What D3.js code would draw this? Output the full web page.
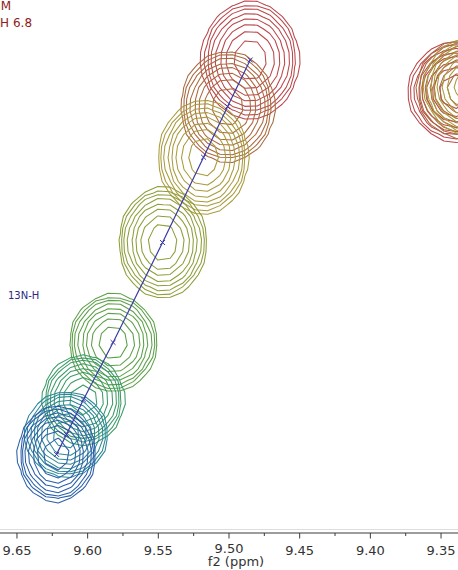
<!DOCTYPE html>
<html><head><meta charset="utf-8">
<script src="https://cdn.jsdelivr.net/npm/d3@7"></script>
<style>html,body{margin:0;padding:0;background:#fff;} svg{display:block;}</style>
</head><body>
<svg id="chart" width="458" height="570"></svg>
<script>
// Titration steps, one overlaid spectrum each (first step red, last step blue)
const stepColors = ["#b9474b", "#a9683d", "#a99a3c", "#8f9d3a", "#5c9f48", "#3d9a68", "#2b8796", "#2b5ea8"];
// Tracked indole N-H peak: 1H (f2) and 15N (f1) positions in ppm
const peakH = [9.485, 9.501, 9.518, 9.547, 9.582, 9.603, 9.615, 9.622];
const peakN = [127.45, 127.80, 128.18, 128.82, 129.57, 130.00, 130.26, 130.41];
// Gaussian widths (ppm)
const widthH = [0.0139, 0.0133, 0.0127, 0.0124, 0.0124, 0.0116, 0.0116, 0.0110];
const widthN = [0.178, 0.168, 0.172, 0.168, 0.147, 0.135, 0.129, 0.144];
// Neighbouring peak at the right edge (first three steps)
const sideH = [9.340, 9.335, 9.330];
const sideN = [127.69, 127.67, 127.65];
const sideWidthH = [0.0133, 0.0130, 0.0127];
const sideWidthN = [0.150, 0.148, 0.146];
// Contour levels relative to peak height
const levels = [0.050, 0.073, 0.105, 0.154, 0.225, 0.330, 0.477, 0.698];
const f2Ticks = [9.65, 9.60, 9.55, 9.50, 9.45, 9.40, 9.35];
const f2Minor = [9.625, 9.575, 9.525, 9.475, 9.425, 9.375];
const f2Title = "f2 (ppm)";
const headerLines = ["mM", "pH 6.8"];
const peakLabel = "13N-H";

const W = 458, H = 570, plotBottom = 533;
const svg = d3.select("#chart");

const x = d3.scaleLinear().domain([9.662, 9.338]).range([0, W]);
const y = d3.scaleLinear().domain([127.0, 131.0]).range([0, plotBottom]);

svg.append("defs").append("clipPath").attr("id", "plotClip")
  .append("rect").attr("x", 0).attr("y", 0).attr("width", W).attr("height", plotBottom - 3);

// faint frame edge above the axis
svg.append("line").attr("x1", 0).attr("x2", W).attr("y1", plotBottom - 3.5).attr("y2", plotBottom - 3.5)
  .attr("stroke", "#dedede").attr("stroke-width", 1);

const plot = svg.append("g").attr("clip-path", "url(#plotClip)");

// coarse sampling grid in ppm (gives the faceted contour outlines)
const H0 = 9.70, H1 = 9.27, stepH = 0.0088;
const N0 = 126.6, N1 = 131.3, stepN = 0.088;
const nx = Math.ceil((H0 - H1) / stepH) + 1;
const ny = Math.ceil((N1 - N0) / stepN) + 1;

function gridFor(peaks) {
  const values = new Float64Array(nx * ny);
  for (let j = 0; j < ny; j++) {
    const n = N0 + j * stepN;
    for (let i = 0; i < nx; i++) {
      const h = H0 - i * stepH;
      let v = 0;
      for (const p of peaks) {
        const dh = (h - p.h) / p.wh, dn = (n - p.n) / p.wn;
        v += Math.exp(-0.5 * (dh * dh + dn * dn));
      }
      values[j * nx + i] = v;
    }
  }
  return values;
}

const toScreen = d3.geoTransform({
  point(gx, gy) {
    this.stream.point(x(H0 - (gx - 0.5) * stepH), y(N0 + (gy - 0.5) * stepN));
  }
});
const path = d3.geoPath(toScreen);
const contourGen = d3.contours().size([nx, ny]).thresholds(levels);

stepColors.forEach((color, k) => {
  const peaks = [{ h: peakH[k], n: peakN[k], wh: widthH[k], wn: widthN[k] }];
  if (k < sideH.length) peaks.push({ h: sideH[k], n: sideN[k], wh: sideWidthH[k], wn: sideWidthN[k] });
  const rings = contourGen(gridFor(peaks));
  plot.append("g").selectAll("path").data(rings).join("path")
    .attr("d", path)
    .attr("fill", "none")
    .attr("stroke", color)
    .attr("stroke-width", 1.05)
    .attr("stroke-linejoin", "round");
});

// trajectory of the peak across the titration
const traj = peakH.map((h, i) => [x(h), y(peakN[i])]);
plot.append("path")
  .attr("d", d3.line()(traj))
  .attr("fill", "none").attr("stroke", "#3a3aa6").attr("stroke-width", 1.2);
const cross = d3.symbol().type(d3.symbolTimes || d3.symbolX).size(18);
plot.selectAll(".pk").data(traj).join("path")
  .attr("class", "pk")
  .attr("transform", d => `translate(${d[0]},${d[1]})`)
  .attr("d", cross)
  .attr("fill", "none").attr("stroke", "#3a3aa6").attr("stroke-width", 1);

// f2 axis
const axisG = svg.append("g").attr("transform", `translate(0,${plotBottom})`);
axisG.append("line").attr("x1", 0).attr("x2", W).attr("stroke", "#3a3a3a").attr("stroke-width", 1);
axisG.selectAll(".maj").data(f2Ticks).join("line").attr("class", "maj")
  .attr("x1", d => x(d)).attr("x2", d => x(d)).attr("y1", 0).attr("y2", 5.5)
  .attr("stroke", "#3a3a3a");
axisG.selectAll(".min").data(f2Minor).join("line").attr("class", "min")
  .attr("x1", d => x(d)).attr("x2", d => x(d)).attr("y1", 0).attr("y2", 3)
  .attr("stroke", "#3a3a3a");
axisG.selectAll(".lbl").data(f2Ticks).join("text").attr("class", "lbl")
  .attr("x", d => x(d)).attr("y", d => d === 9.50 ? 20 : 22)
  .attr("text-anchor", "middle")
  .attr("font-family", "DejaVu Sans, Verdana, sans-serif").attr("font-size", 13)
  .attr("fill", "#333")
  .text(d => d3.format(".2f")(d));
svg.append("text").attr("x", 236).attr("y", 566)
  .attr("text-anchor", "middle")
  .attr("font-family", "DejaVu Sans, Verdana, sans-serif").attr("font-size", 13)
  .attr("fill", "#333").text(f2Title);

// sample conditions (partly beyond the left edge)
svg.append("text").attr("x", -11).attr("y", 9.5)
  .attr("font-family", "DejaVu Sans, Verdana, sans-serif").attr("font-size", 12)
  .attr("fill", "#8e1b1b").text(headerLines[0]);
svg.append("text").attr("x", -7.5).attr("y", 26.5)
  .attr("font-family", "DejaVu Sans, Verdana, sans-serif").attr("font-size", 12)
  .attr("fill", "#8e1b1b").text(headerLines[1]);

svg.append("text").attr("x", 8).attr("y", 299)
  .attr("font-family", "DejaVu Sans, Verdana, sans-serif").attr("font-size", 10)
  .attr("fill", "#2a2a7e").text(peakLabel);
</script>
</body></html>
